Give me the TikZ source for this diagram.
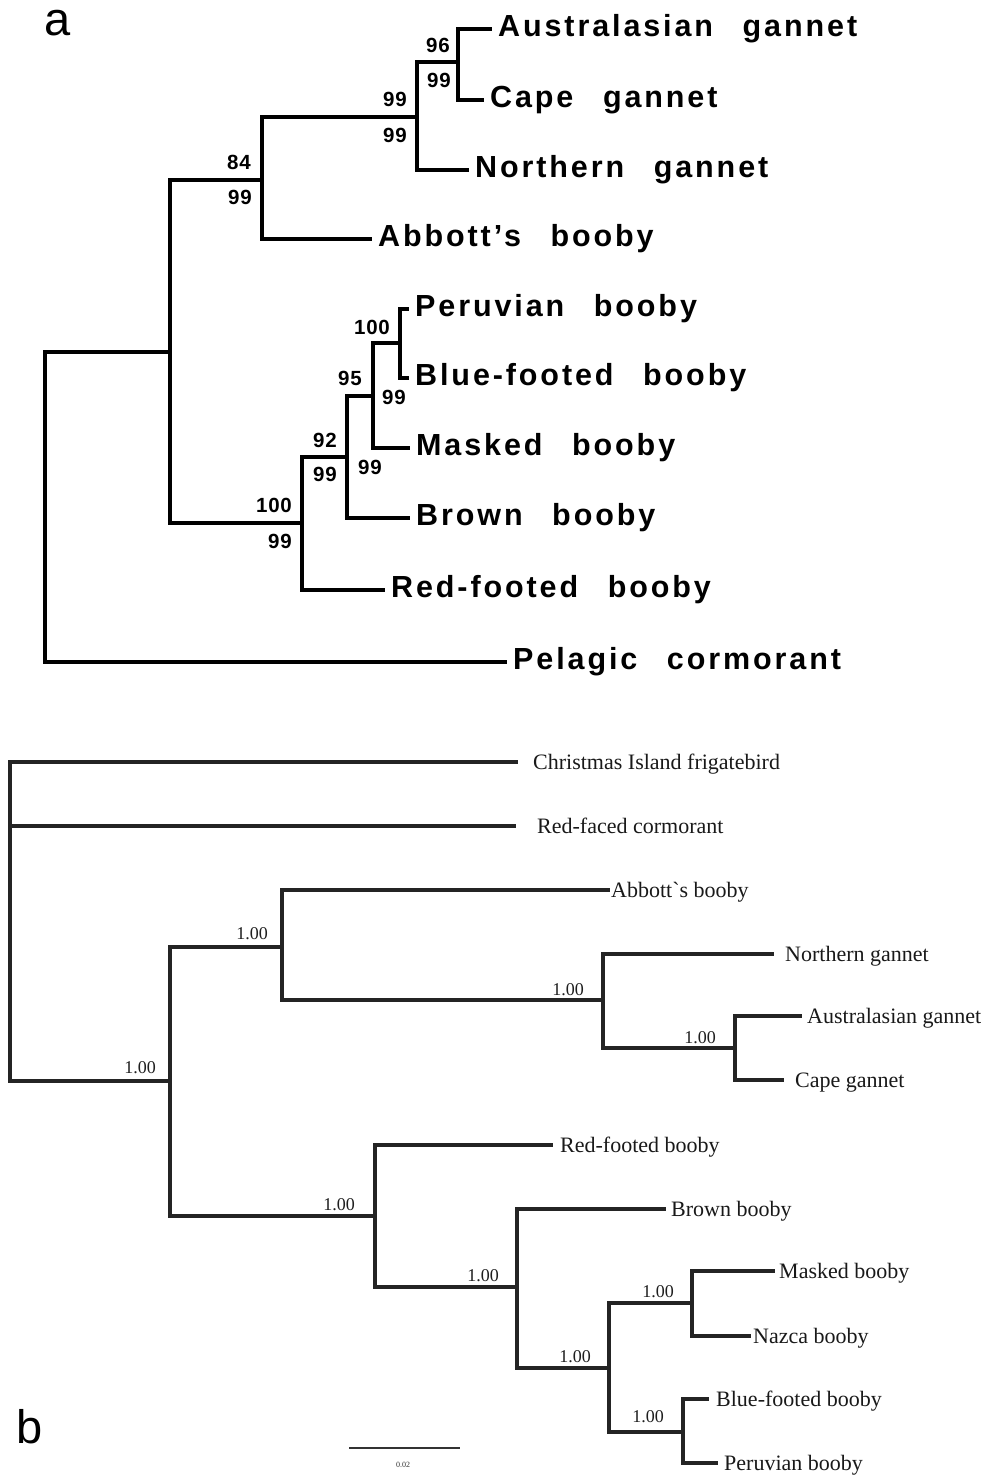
\documentclass[tikz,border=0pt]{standalone}
\usepackage{fontspec}
\newfontfamily\leafAfont{Liberation Sans}[LetterSpace=9.5, WordSpace=2.6]
\newfontfamily\supAfont{Liberation Sans}[LetterSpace=4]
\newfontfamily\panelfont{Liberation Sans}
\newfontfamily\leafBfont{Liberation Serif}
\begin{document}
\begin{tikzpicture}[x=1pt,y=-1pt,
  edgeA/.style={line width=4.5pt, line join=miter, line cap=rect, black},
  edgeB/.style={line width=3.2pt, line join=miter, line cap=rect, black!86},
  leafA/.style={font=\leafAfont\bfseries\fontsize{30.5}{30.5}\selectfont, anchor=west,
    inner ysep=0pt, inner xsep=8pt, text height=21pt, text depth=7pt},
  supA/.style={font=\supAfont\bfseries\fontsize{20.5}{20.5}\selectfont, inner sep=0pt},
  leafB/.style={font=\leafBfont\fontsize{22}{22}\selectfont, anchor=west, text=black!90,
    inner ysep=0pt, inner xsep=8pt, text height=17pt, text depth=2pt},
  supB/.style={font=\leafBfont\fontsize{18}{18}\selectfont, inner sep=0pt, text=black!88},
  panel/.style={font=\panelfont\fontsize{47}{47}\selectfont, inner sep=0pt}]
\useasboundingbox (0,0) rectangle (988,1475);
\fill[white] (0,0) rectangle (988,1475);

% ---------------- panel a ----------------
\node[panel] (pa) at (58,23) {a};

% internal nodes (x of the vertical bar, y of the incoming branch)
\coordinate (aR) at (45,500);
\coordinate (a1) at (170,352);
\coordinate (a2) at (262,180);
\coordinate (a3) at (417,117);
\coordinate (a4) at (458,62);
\coordinate (b1) at (302,523);
\coordinate (b2) at (347,457);
\coordinate (b3) at (373,396);
\coordinate (b4) at (400,343);

% tips
\node[leafA] (aAus) at (490,29) {Australasian gannet};
\node[leafA] (aCap) at (482,100) {Cape gannet};
\node[leafA] (aNor) at (467,170) {Northern gannet};
\node[leafA] (aAbb) at (370,239) {Abbott’s booby};
\node[leafA] (aPer) at (407,309) {Peruvian booby};
\node[leafA] (aBlu) at (407,378) {Blue-footed booby};
\node[leafA] (aMas) at (408,448) {Masked booby};
\node[leafA] (aBro) at (408,518) {Brown booby};
\node[leafA] (aRed) at (383,590) {Red-footed booby};
\node[leafA] (aPel) at (505,662) {Pelagic cormorant};

% branches
\draw[edgeA] (aR) |- (a1);
\draw[edgeA] (aR) |- (aPel.west);
\draw[edgeA] (a1) |- (a2);
\draw[edgeA] (a1) |- (b1);
\draw[edgeA] (a2) |- (a3);
\draw[edgeA] (a2) |- (aAbb.west);
\draw[edgeA] (a3) |- (a4);
\draw[edgeA] (a3) |- (aNor.west);
\draw[edgeA] (a4) |- (aAus.west);
\draw[edgeA] (a4) |- (aCap.west);
\draw[edgeA] (b1) |- (b2);
\draw[edgeA] (b1) |- (aRed.west);
\draw[edgeA] (b2) |- (b3);
\draw[edgeA] (b2) |- (aBro.west);
\draw[edgeA] (b3) |- (b4);
\draw[edgeA] (b3) |- (aMas.west);
\draw[edgeA] (b4) |- (aPer.west);
\draw[edgeA] (b4) |- (aBlu.west);

% support values
\node[supA] (sa1) at (438,45) {96};
\node[supA] (sa2) at (439,80) {99};
\node[supA] (sa3) at (395,99) {99};
\node[supA] (sa4) at (395,135) {99};
\node[supA] (sa5) at (239,162) {84};
\node[supA] (sa6) at (240,197) {99};
\node[supA] (sa7) at (372,327) {100};
\node[supA] (sa8) at (350,378) {95};
\node[supA] (sa9) at (394,397) {99};
\node[supA] (sa10) at (325,440) {92};
\node[supA] (sa11) at (325,474) {99};
\node[supA] (sa12) at (370,467) {99};
\node[supA] (sa13) at (274,505) {100};
\node[supA] (sa14) at (280,541) {99};

% ---------------- panel b ----------------
\node[panel] (pb) at (30,1427) {b};

\coordinate (cR) at (10,900);
\coordinate (c1) at (170,1081);
\coordinate (c2) at (282,947);
\coordinate (c3) at (603,1000);
\coordinate (c4) at (735,1048);
\coordinate (d1) at (375,1216);
\coordinate (d2) at (517,1287);
\coordinate (d3) at (609,1368);
\coordinate (d4) at (692,1303);
\coordinate (d5) at (683,1432);

\node[leafB, inner xsep=17pt] (bChr) at (516,762) {Christmas Island frigatebird};
\node[leafB, inner xsep=23pt] (bRfc) at (514,826) {Red-faced cormorant};
\node[leafB, inner xsep=3pt] (bAbb) at (608,890) {Abbott\textasciigrave s booby};
\node[leafB, inner xsep=13pt] (bNor) at (772,954) {Northern gannet};
\node[leafB, inner xsep=7pt] (bAus) at (800,1016) {Australasian gannet};
\node[leafB, inner xsep=13pt] (bCap) at (782,1080) {Cape gannet};
\node[leafB, inner xsep=9pt] (bRed) at (551,1145) {Red-footed booby};
\node[leafB, inner xsep=7pt] (bBro) at (664,1209) {Brown booby};
\node[leafB, inner xsep=6pt] (bMas) at (773,1271) {Masked booby};
\node[leafB, inner xsep=4pt] (bNaz) at (749,1336) {Nazca booby};
\node[leafB, inner xsep=9pt] (bBlu) at (707,1399) {Blue-footed booby};
\node[leafB, inner xsep=8pt] (bPer) at (716,1463) {Peruvian booby};

\draw[edgeB] (cR) |- (bChr.west);
\draw[edgeB] (cR) |- (bRfc.west);
\draw[edgeB] (cR) |- (c1);
\draw[edgeB] (c1) |- (c2);
\draw[edgeB] (c1) |- (d1);
\draw[edgeB] (c2) |- (bAbb.west);
\draw[edgeB] (c2) |- (c3);
\draw[edgeB] (c3) |- (bNor.west);
\draw[edgeB] (c3) |- (c4);
\draw[edgeB] (c4) |- (bAus.west);
\draw[edgeB] (c4) |- (bCap.west);
\draw[edgeB] (d1) |- (bRed.west);
\draw[edgeB] (d1) |- (d2);
\draw[edgeB] (d2) |- (bBro.west);
\draw[edgeB] (d2) |- (d3);
\draw[edgeB] (d3) |- (d4);
\draw[edgeB] (d3) |- (d5);
\draw[edgeB] (d4) |- (bMas.west);
\draw[edgeB] (d4) |- (bNaz.west);
\draw[edgeB] (d5) |- (bBlu.west);
\draw[edgeB] (d5) |- (bPer.west);

% posterior probabilities
\node[supB] (pp1) at (140,1068) {1.00};
\node[supB] (pp2) at (252,934) {1.00};
\node[supB] (pp3) at (568,990) {1.00};
\node[supB] (pp4) at (700,1038) {1.00};
\node[supB] (pp5) at (339,1205) {1.00};
\node[supB] (pp6) at (483,1276) {1.00};
\node[supB] (pp7) at (658,1292) {1.00};
\node[supB] (pp8) at (575,1357) {1.00};
\node[supB] (pp9) at (648,1417) {1.00};

% scale bar
\coordinate (sbL) at (349,1448);
\coordinate (sbR) at (460,1448);
\draw[line width=2pt, black!80] (sbL) -- (sbR);
\node[font=\leafBfont\fontsize{8}{8}\selectfont, inner sep=0pt, text=black!80] (sbT) at (403,1465) {0.02};
\end{tikzpicture}
\end{document}
